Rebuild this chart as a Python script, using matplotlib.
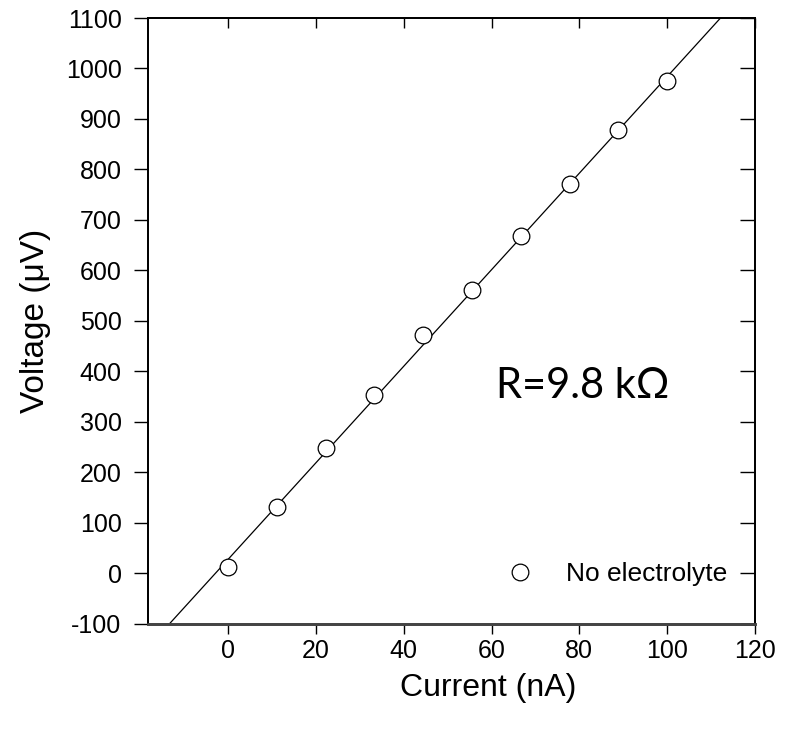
import numpy as np
import matplotlib
matplotlib.use("Agg")
import matplotlib.pyplot as plt

plt.rcParams['font.family'] = ['Liberation Sans', 'DejaVu Sans']
plt.rcParams['axes.unicode_minus'] = False

# data
current_nA = [0, 11.1, 22.2, 33.3, 44.4, 55.5, 66.7, 77.8, 88.9, 100]
voltage_uV = [12, 130, 247, 353, 472, 560, 668, 771, 878, 976]
fit_slope = 9.56
fit_intercept = 27.5
x_ticks = [0, 20, 40, 60, 80, 100, 120]
y_ticks = list(range(-100, 1101, 100))
series_name = "No electrolyte"
annotation = "R=9.8 k\u03a9"

fig = plt.figure(figsize=(7.85, 7.35), dpi=100)
rect = [0.1885, 0.1517, 0.773, 0.8238]
ax = fig.add_axes(rect)

xmin, xmax = -18.3, 120
ymin, ymax = -100, 1100
xs = np.array([xmin, xmax])
ax.plot(xs, fit_slope * xs + fit_intercept, color='black', lw=0.9, zorder=2)
ax.plot(current_nA, voltage_uV, 'o', ms=12, mfc='white', mec='black',
        mew=0.9, label=series_name, zorder=3)

ax.set_xlim(xmin, xmax)
ax.set_ylim(ymin, ymax)
ax.set_xticks(x_ticks)
ax.set_yticks(y_ticks)
ax.tick_params(axis='both', labelsize=18, width=1, color='black')
ax.tick_params(axis='x', direction='out', length=7, pad=4)
ax.tick_params(axis='y', direction='out', length=10, pad=9)

# inward ticks on the top and right spines
top = ax.twiny()
top.set_xlim(xmin, xmax)
top.set_xticks(x_ticks)
top.tick_params(axis='x', direction='in', length=7, width=1, labeltop=False)
right = ax.twinx()
right.set_ylim(ymin, ymax)
right.set_yticks(y_ticks)
right.tick_params(axis='y', direction='in', length=11, width=1, labelright=False)

for a in (ax, top, right):
    for s in ['left', 'top', 'right']:
        a.spines[s].set_linewidth(1.1)
        a.spines[s].set_color('black')
    a.spines['bottom'].set_linewidth(1.8)
    a.spines['bottom'].set_color('#444444')

ax.set_xlabel("Current (nA)", fontsize=23)
ax.xaxis.set_label_coords(0.56, -0.1065)
ax.xaxis.label.set_va('center')
ax.set_ylabel("Voltage (\u03bcV)", fontsize=24)
ax.yaxis.set_label_coords(-0.186, 0.5)
ax.yaxis.label.set_va('center')

ax.text(0.717, 0.392, annotation, transform=ax.transAxes, fontsize=30,
        family=['Lato', 'DejaVu Sans'], ha='center', va='center')

ax.legend(loc='center left', frameon=False, fontsize=19,
          bbox_to_anchor=(0.559, 0.081), handletextpad=1.0, borderpad=0,
          handlelength=1.5)

fig.savefig("out.png", dpi=100)
